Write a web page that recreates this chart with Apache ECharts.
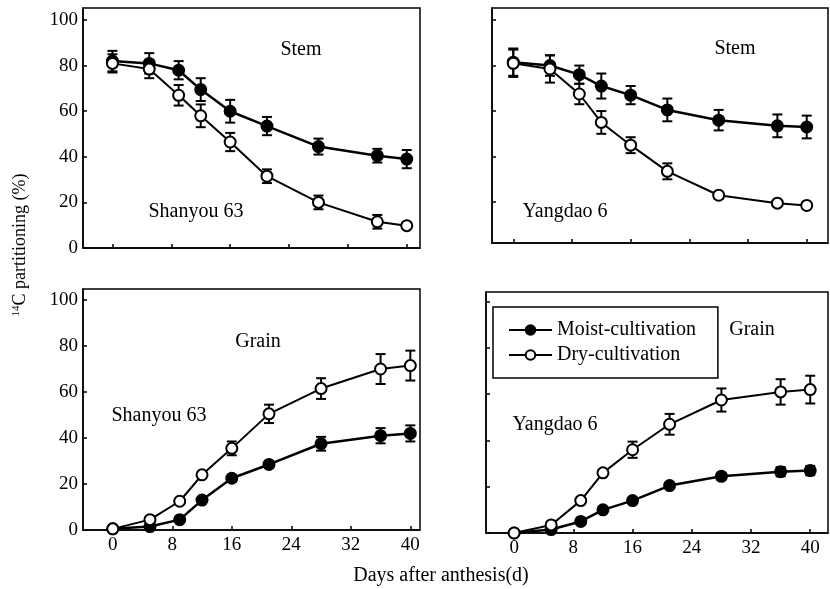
<!DOCTYPE html>
<html>
<head>
<meta charset="utf-8">
<script src="https://cdn.jsdelivr.net/npm/echarts@6/dist/echarts.min.js"></script>
<style>
html, body { margin: 0; padding: 0; background: #fff; }
#chart { width: 830px; height: 589px; }
</style>
</head>
<body>
<div id="chart"></div>
<script>
const days = [0, 5, 9, 12, 16, 21, 28, 36, 40];
const xTicks = [0, 8, 16, 24, 32, 40];
const yTicks = [0, 20, 40, 60, 80, 100];

// Shanyou 63, stem
const shStemMoist = [82, 81, 78, 69.5, 60, 53.5, 44.5, 40.5, 39];
const shStemMoistErr = [4.5, 4.5, 4, 5, 5, 4, 3.5, 3, 4];
const shStemDry = [81, 78.5, 67, 58, 46.5, 31.5, 20, 11.5, 9.8];
const shStemDryErr = [4, 4, 4.5, 5, 4, 3, 3, 3, 1];
// Yangdao 6, stem
const ydStemMoist = [81.5, 80, 76, 71, 67, 60.5, 56, 53.5, 53];
const ydStemMoistErr = [6, 4.5, 4, 5.5, 4, 5, 4.5, 5, 5];
const ydStemDry = [81, 78.5, 67.5, 55, 45, 33.5, 23, 19.5, 18.5];
const ydStemDryErr = [6, 6, 4.5, 5, 3.5, 3.5, 1.5, 1, 1];
// Shanyou 63, grain
const shGrainMoist = [0.5, 1.5, 4.5, 13, 22.5, 28.5, 37.5, 41, 42];
const shGrainMoistErr = [0, 0.5, 0.5, 1, 1.5, 1.5, 3, 3.3, 3.5];
const shGrainDry = [0.5, 4.5, 12.5, 24, 35.5, 50.5, 61.5, 70, 71.5];
const shGrainDryErr = [0, 0.5, 1, 1, 3, 4, 4.5, 6.5, 6.5];
// Yangdao 6, grain
const ydGrainMoist = [0, 1.5, 5, 10, 14, 20.5, 24.5, 26.5, 27];
const ydGrainMoistErr = [0, 0, 0.5, 1, 1, 1, 1.5, 2, 2];
const ydGrainDry = [0, 3.5, 14, 26, 36, 47, 57.5, 61, 62];
const ydGrainDryErr = [0, 0.5, 1, 1, 3.5, 4.5, 5, 5.5, 6];

const FONT = "Liberation Serif";

const panels = [
  { grid: { left: 83, top: 8, width: 337, height: 240 }, x: [-4, 41.8], y: [0, 105.3], yLab: true, xLab: false,
    moist: shStemMoist, moistErr: shStemMoistErr, dry: shStemDry, dryErr: shStemDryErr },
  { grid: { left: 492, top: 8, width: 336, height: 235 }, x: [-2.9, 42.9], y: [2, 105.3], yLab: false, xLab: false,
    moist: ydStemMoist, moistErr: ydStemMoistErr, dry: ydStemDry, dryErr: ydStemDryErr },
  { grid: { left: 83, top: 289, width: 337, height: 241 }, x: [-4, 41.3], y: [0, 104.8], yLab: true, xLab: true,
    moist: shGrainMoist, moistErr: shGrainMoistErr, dry: shGrainDry, dryErr: shGrainDryErr },
  { grid: { left: 486, top: 292, width: 342, height: 241 }, x: [-3.8, 42.4], y: [0, 104.2], yLab: false, xLab: true,
    moist: ydGrainMoist, moistErr: ydGrainMoistErr, dry: ydGrainDry, dryErr: ydGrainDryErr }
];

function errRender(params, api) {
  const x = api.value(0), v = api.value(1), e = api.value(2);
  if (!e) return;
  const top = api.coord([x, v + e]);
  const bot = api.coord([x, v - e]);
  const w = 5;
  const st = { stroke: "#000", lineWidth: 2 };
  return {
    type: "group",
    children: [
      { type: "line", shape: { x1: top[0], y1: top[1], x2: bot[0], y2: bot[1] }, style: st },
      { type: "line", shape: { x1: top[0] - w, y1: top[1], x2: top[0] + w, y2: top[1] }, style: st },
      { type: "line", shape: { x1: bot[0] - w, y1: bot[1], x2: bot[0] + w, y2: bot[1] }, style: st }
    ]
  };
}

const grids = [], xAxes = [], yAxes = [], series = [];
panels.forEach((p, i) => {
  grids.push(Object.assign({ show: true, borderColor: "#000", borderWidth: 1.5 }, p.grid));
  xAxes.push({
    type: "value", gridIndex: i, min: p.x[0], max: p.x[1],
    axisLine: { onZero: false, lineStyle: { color: "#000", width: 1.5 } },
    axisTick: { inside: true, length: 4, customValues: xTicks, lineStyle: { color: "#000", width: 1.5 } },
    axisLabel: { show: p.xLab, customValues: xTicks, margin: 6, color: "#000", fontFamily: FONT, fontSize: 19 },
    splitLine: { show: false }
  });
  const yt = yTicks.filter(v => v >= p.y[0] && v <= p.y[1]);
  yAxes.push({
    type: "value", gridIndex: i, min: p.y[0], max: p.y[1],
    axisLine: { show: true, onZero: false, lineStyle: { color: "#000", width: 1.5 } },
    axisTick: { show: true, inside: true, length: 4, customValues: yt, lineStyle: { color: "#000", width: 1.5 } },
    axisLabel: { show: p.yLab, customValues: yt, margin: 5, color: "#000", fontFamily: FONT, fontSize: 19 },
    splitLine: { show: false }
  });
  [["moist", "Moist-cultivation", "#000", 2.5], ["dry", "Dry-cultivation", "#fff", 2]].forEach(([key, name, fill, lw]) => {
    const vals = p[key], errs = p[key + "Err"];
    series.push({
      type: "line", name: name, xAxisIndex: i, yAxisIndex: i, z: 3,
      symbol: "circle", symbolSize: 11,
      lineStyle: { color: "#000", width: lw },
      itemStyle: { color: fill, borderColor: "#000", borderWidth: 2, opacity: 1 },
      data: days.map((d, k) => [d, vals[k]])
    });
    series.push({
      type: "custom", name: key + "-error", xAxisIndex: i, yAxisIndex: i, z: 1, silent: true,
      renderItem: errRender, encode: { x: 0, y: 1 },
      data: days.map((d, k) => [d, vals[k], errs[k]])
    });
  });
});

const txt = (x, y, s) => ({
  type: "text", x: x, y: y,
  style: { text: s, fill: "#000", font: "20px " + FONT, textAlign: "center", textVerticalAlign: "middle" }
});

const option = {
  animation: false,
  grid: grids,
  xAxis: xAxes,
  yAxis: yAxes,
  series: series,
  legend: {
    data: ["Moist-cultivation", "Dry-cultivation"],
    orient: "vertical", left: 493, top: 307,
    padding: [13, 22, 13, 15],
    itemWidth: 43, itemHeight: 12, itemGap: 5,
    borderColor: "#000", borderWidth: 1.5, backgroundColor: "#fff",
    textStyle: { color: "#000", fontFamily: FONT, fontSize: 20 },
    selectedMode: false
  },
  graphic: [
    txt(301, 50, "Stem"),
    txt(196, 212, "Shanyou 63"),
    txt(735, 49, "Stem"),
    txt(565, 212, "Yangdao 6"),
    txt(258, 342, "Grain"),
    txt(159, 416, "Shanyou 63"),
    txt(752, 330, "Grain"),
    txt(555, 425, "Yangdao 6"),
    txt(441, 576, "Days after anthesis(d)"),
    {
      type: "text", x: 20, y: 245, rotation: Math.PI / 2,
      style: {
        text: "{s|14}C partitioning (%)", fill: "#000", font: "18px " + FONT,
        textAlign: "center", textVerticalAlign: "middle",
        rich: { s: { fontSize: 11, fontFamily: FONT, verticalAlign: "top", padding: [0, 0, 8, 0] } }
      }
    }
  ]
};

const myChart = echarts.init(document.getElementById("chart"));
myChart.setOption(option);
</script>
</body>
</html>
